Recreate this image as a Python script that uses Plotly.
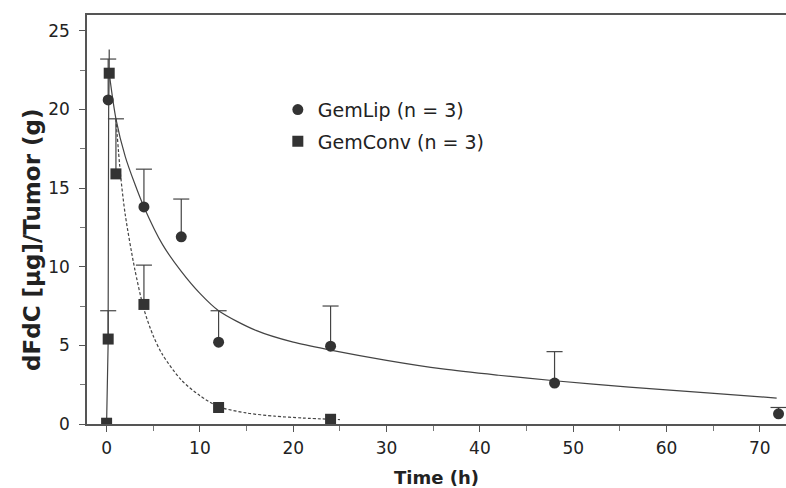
import plotly.graph_objects as go

# Measured tumor dFdC levels (mean with upper SD)
lip_t = [0.17, 4, 8, 12, 24, 48, 72]
lip_y = [20.6, 13.8, 11.9, 5.2, 4.95, 2.6, 0.65]
lip_sd = [2.6, 2.4, 2.4, 2.0, 2.55, 2.0, 0.4]

conv_t = [0.0, 0.17, 0.28, 1.0, 4, 12, 24]
conv_y = [0.05, 5.4, 22.3, 15.9, 7.6, 1.05, 0.3]
conv_sd = [0.0, 1.8, 1.5, 3.5, 2.5, 0.0, 0.0]
conv_cap = [0, 1, 0, 1, 1, 0, 0]

# Fitted concentration-time curves
lip_rise_t = [0.0, 0.1, 0.16, 0.22, 0.28]
lip_rise_y = [0.05, 2.9, 5.0, 20.0, 22.3]
lip_fit_t = [0.28, 1, 2, 3, 4, 6, 8, 10, 12, 16, 20, 24, 30, 36, 42, 48, 56, 64, 71.8]
lip_fit_y = [22.3, 19.4, 17.0, 15.3, 13.8, 11.4, 9.7, 8.3, 7.2, 5.95, 5.2, 4.7,
             4.05, 3.5, 3.1, 2.75, 2.35, 2.0, 1.65]

conv_fit_t = [1, 1.5, 2, 3, 4, 5, 6, 8, 10, 12, 15, 18, 21, 25]
conv_fit_y = [19.4, 15.8, 13.3, 9.9, 7.3, 5.6, 4.4, 2.8, 1.8, 1.1, 0.7, 0.5, 0.38, 0.28]

INK = "#333333"
LINE = "#444444"
CAP = 0.86  # half-width of error-bar caps, hours
FONT = "DejaVu Sans, Liberation Sans, Arial, sans-serif"


def err_segments(ts, ys, sds, caps=None):
    xs, yv = [], []
    for i, (t, y, e) in enumerate(zip(ts, ys, sds)):
        if e <= 0:
            continue
        xs += [t, t, None]
        yv += [y, y + e, None]
        if caps is None or caps[i]:
            xs += [t - CAP, t + CAP, None]
            yv += [y + e, y + e, None]
    return xs, yv


fig = go.Figure()

ex, ey = err_segments(lip_t, lip_y, lip_sd)
fig.add_trace(go.Scatter(x=ex, y=ey, mode="lines", line=dict(color=LINE, width=1.2),
                         showlegend=False, hoverinfo="skip"))
ex, ey = err_segments(conv_t, conv_y, conv_sd, conv_cap)
fig.add_trace(go.Scatter(x=ex, y=ey, mode="lines", line=dict(color=LINE, width=1.2),
                         showlegend=False, hoverinfo="skip"))

fig.add_trace(go.Scatter(x=lip_rise_t, y=lip_rise_y, mode="lines",
                         line=dict(color=LINE, width=1.2), showlegend=False))
fig.add_trace(go.Scatter(x=lip_fit_t, y=lip_fit_y, mode="lines",
                         line=dict(color=LINE, width=1.2, shape="spline", smoothing=0.8),
                         showlegend=False))
fig.add_trace(go.Scatter(x=conv_fit_t, y=conv_fit_y, mode="lines",
                         line=dict(color=LINE, width=1.2, dash="3px,2px",
                                   shape="spline", smoothing=0.8),
                         showlegend=False))

fig.add_trace(go.Scatter(x=lip_t, y=lip_y, mode="markers", name="GemLip (n = 3)",
                         legendgroup="lip",
                         marker=dict(symbol="circle", size=11, color=INK)))
fig.add_trace(go.Scatter(x=conv_t, y=conv_y, mode="markers", name="GemConv (n = 3)",
                         legendgroup="conv",
                         marker=dict(symbol="square", size=11, color=INK)))

tickfont = dict(family=FONT, size=17, color="#222222")

fig.update_layout(
    width=786, height=488,
    margin=dict(l=87, r=0, t=15, b=64),
    paper_bgcolor="white", plot_bgcolor="white",
    font=dict(family=FONT, color="#222222"),
    legend=dict(x=0.273, y=0.815, xanchor="left", yanchor="top",
                font=dict(size=19, color="#222222"), tracegroupgap=4,
                bgcolor="rgba(0,0,0,0)", itemwidth=30),
    xaxis=dict(range=[-2.1, 72.8], tickvals=[0, 10, 20, 30, 40, 50, 60, 70],
               showgrid=False, zeroline=False, showline=True, mirror=True,
               linecolor="#555555", linewidth=1.5, ticks="outside", ticklen=6,
               tickcolor="#555555", tickfont=tickfont, ticklabelstandoff=2,
               minor=dict(tickvals=[5, 15, 25, 35, 45, 55, 65], ticks="outside",
                          ticklen=5, tickcolor="#777777"),
               title=dict(text="<b>Time (h)</b>", font=dict(size=18), standoff=14)),
    yaxis=dict(range=[0, 26], tickvals=[0, 5, 10, 15, 20, 25],
               showgrid=False, zeroline=False, showline=True,
               linecolor="#555555", linewidth=1.5, ticks="outside", ticklen=6,
               tickcolor="#555555", tickfont=tickfont, ticklabelstandoff=6,
               minor=dict(tickvals=[2.5, 7.5, 12.5, 17.5, 22.5], ticks="outside",
                          ticklen=5, tickcolor="#777777")),
    annotations=[dict(text="<b>dFdC [µg]/Tumor (g)</b>", textangle=-90,
                      xref="paper", yref="paper", x=-87 / 699, xanchor="left",
                      y=(424 - 240) / 409, yanchor="middle", showarrow=False,
                      font=dict(size=23, color="#222222"), xshift=17)],
)

fig.write_html("out.html")
